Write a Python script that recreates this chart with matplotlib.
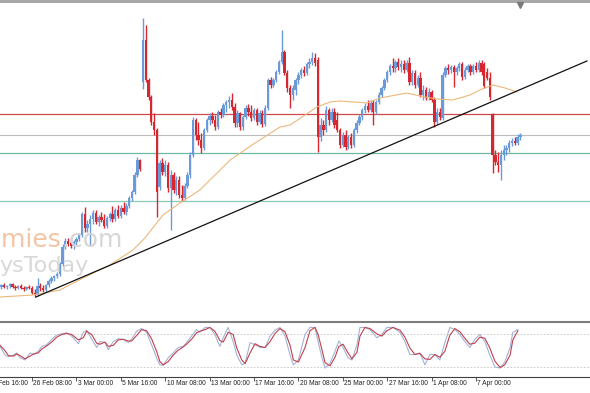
import matplotlib
matplotlib.use("Agg")
import matplotlib.pyplot as plt
import numpy as np

# H4 candles (price units are arbitrary, the price scale is cut off in the screenshot)
opens = [14, 13, 15, 13, 14, 16, 13, 12, 14, 12, 11, 13, 12, 7, 5, 14, 12, 10, 15, 19,
         22, 24, 26, 36, 53, 59, 57, 54, 58, 61, 65, 86, 72, 76, 81, 87, 78, 83, 80, 74,
         82, 86, 81, 90, 84, 92, 88, 94, 102, 108, 125, 140, 218, 260, 220, 203, 178, 170, 113, 137,
         128, 135, 112, 125, 110, 120, 105, 102, 114, 125, 145, 180, 165, 160, 152, 170, 180, 184, 180, 173,
         188, 185, 195, 198, 200, 193, 177, 187, 173, 183, 192, 188, 182, 190, 178, 187, 176, 192, 220, 215,
         220, 228, 238, 248, 227, 212, 205, 210, 220, 225, 230, 227, 236, 238, 242, 240, 163, 175, 170, 190,
         180, 188, 180, 170, 155, 165, 153, 163, 155, 170, 177, 183, 190, 194, 190, 197, 188, 198, 205, 212,
         220, 228, 234, 232, 238, 233, 236, 230, 237, 218, 227, 215, 222, 205, 210, 202, 208, 200, 178, 188,
         182, 225, 232, 230, 233, 228, 232, 236, 223, 230, 234, 228, 234, 230, 237, 236, 228, 222, 186, 145,
         138, 135, 145, 150, 152, 157, 159, 157, 163]
highs = [16, 16, 17, 15, 17, 17, 15, 15, 16, 14, 14, 15, 14, 11, 22, 17, 15, 16, 21, 24,
         25, 28, 38, 56, 62, 62, 61, 60, 63, 67, 88, 93, 80, 85, 90, 90, 85, 88, 86, 84,
         88, 94, 92, 95, 95, 98, 97, 104, 110, 128, 143, 141, 282, 275, 222, 205, 187, 172, 140, 142,
         140, 138, 130, 128, 124, 124, 115, 117, 128, 148, 183, 182, 178, 167, 172, 182, 187, 188, 185, 190,
         192, 197, 200, 204, 207, 197, 190, 188, 185, 195, 196, 195, 192, 192, 190, 190, 195, 222, 223, 222,
         230, 240, 270, 250, 230, 215, 215, 222, 228, 232, 234, 238, 242, 248, 247, 243, 182, 180, 194, 192,
         192, 192, 188, 172, 168, 170, 165, 167, 172, 180, 186, 192, 197, 200, 200, 200, 200, 208, 214, 222,
         230, 236, 242, 240, 242, 240, 240, 240, 243, 230, 230, 225, 228, 215, 213, 212, 210, 203, 192, 192,
         228, 234, 236, 235, 235, 234, 238, 238, 233, 236, 236, 236, 238, 240, 240, 238, 232, 228, 187, 150,
         148, 150, 155, 155, 160, 162, 163, 166, 167]
lows = [11, 11, 12, 11, 12, 12, 10, 11, 11, 9, 10, 11, 6, 3, 4, 9, 8, 8, 13, 17,
        19, 22, 24, 34, 51, 54, 52, 51, 55, 59, 63, 68, 68, 55, 76, 76, 74, 78, 72, 72,
        79, 78, 79, 82, 82, 86, 85, 92, 99, 106, 123, 129, 211, 218, 200, 175, 165, 83, 110, 125,
        124, 108, 70, 107, 105, 102, 99, 100, 112, 122, 143, 160, 155, 147, 150, 168, 175, 177, 170, 171,
        182, 183, 188, 192, 190, 173, 173, 170, 170, 181, 184, 179, 180, 175, 176, 173, 174, 190, 212, 213,
        218, 226, 236, 225, 208, 192, 200, 205, 216, 222, 224, 225, 232, 235, 234, 148, 159, 165, 168, 175,
        178, 172, 168, 152, 153, 150, 151, 152, 153, 167, 175, 180, 187, 188, 188, 175, 186, 196, 203, 210,
        218, 225, 228, 228, 230, 228, 227, 228, 215, 215, 212, 213, 203, 200, 200, 200, 198, 173, 176, 180,
        180, 223, 226, 227, 213, 225, 229, 220, 221, 228, 225, 226, 228, 228, 225, 212, 220, 200, 127, 135,
        128, 120, 140, 145, 148, 154, 155, 155, 160]
closes = [13, 15, 13, 14, 16, 13, 12, 14, 12, 11, 13, 12, 7, 5, 14, 12, 10, 15, 19, 22,
          24, 26, 36, 53, 59, 56, 54, 58, 61, 65, 86, 72, 76, 81, 87, 78, 83, 80, 74, 82,
          86, 81, 90, 84, 92, 88, 94, 102, 108, 125, 140, 131, 260, 220, 203, 178, 170, 108, 137, 128,
          135, 112, 125, 110, 120, 105, 102, 114, 125, 145, 180, 165, 160, 152, 170, 180, 184, 180, 173, 188,
          185, 195, 198, 200, 193, 177, 187, 173, 183, 192, 188, 182, 190, 178, 187, 176, 192, 220, 215, 220,
          228, 238, 248, 227, 212, 205, 212, 220, 225, 230, 227, 236, 238, 242, 237, 163, 175, 170, 190, 180,
          188, 175, 170, 155, 165, 153, 163, 155, 170, 177, 183, 190, 194, 190, 197, 188, 198, 205, 212, 220,
          228, 234, 232, 238, 233, 236, 230, 237, 218, 227, 215, 222, 205, 210, 202, 208, 200, 178, 188, 183,
          225, 232, 230, 233, 228, 232, 236, 223, 230, 234, 228, 234, 230, 237, 228, 214, 222, 203, 145, 138,
          135, 145, 150, 152, 157, 159, 157, 163, 165]

# moving average
ma_idx = [0.5, 12.4, 22.1, 30.4, 40.1, 48.4, 52.7, 59.2, 65.3, 72.5, 83.4, 92.4, 101.4, 105, 110.4,
          114.7, 119.4, 123, 132.7, 137.4, 147.1, 151.8, 157.9, 163.7, 169.8, 173.4, 178.1, 182.5, 186.8]
ma_val = [3, 5, 10, 22, 35, 50, 62, 85, 97, 110, 140, 157, 173, 175, 185,
          193, 198, 199, 197, 202, 207, 204, 201, 200, 205, 210, 215, 212, 208]

# trend line and horizontal levels
trend_idx = [13.4, 212.0]
trend_val = [3, 239]
level_red = 186
level_gray = 165
level_teal = [147, 99]

# stochastic oscillator
stoch_idx = [0.5, 2.3, 3.5, 5.3, 6.5, 7.7, 9.5, 11.3, 12.5, 14.3, 15.5, 17.3, 19.1, 20.9, 22.7,
             24.5, 26.3, 28.7, 30.5, 31.7, 33.5, 35.3, 36.5, 38.3, 39.5, 41.3, 43.1, 44.9, 46.7, 47.9,
             49.7, 51.5, 53.3, 55.1, 56.9, 58.1, 59.3, 61.1, 62.9, 64.7, 66.5, 67.7, 69.5, 71.3, 72.5,
             74.4, 76.1, 77.9, 79.7, 80.9, 82.7, 84.5, 85.8, 87.6, 88.8, 90.6, 92.4, 94.2, 96, 97.8,
             99.6, 101.4, 103.2, 105, 106.2, 108, 110.4, 112.2, 114, 115.1, 116.5, 117.6, 119.4, 121.2, 122.6,
             124.1, 125.9, 127.3, 129.1, 130.2, 132, 133.8, 136.3, 138.1, 139.9, 142.1, 144.6, 146.4, 148.2, 150,
             151.8, 153.6, 155.4, 157.2, 159, 160.8, 162.6, 164.4, 166.2, 168, 169.8, 171.6, 173.4, 175.2, 177,
             178.8, 180.7, 182.4, 184.3, 185.3, 187.1]
stoch_k = [58, 42, 39, 42, 46, 37, 33, 46, 43, 49, 58, 61, 71, 79, 81,
           83, 77, 63, 84, 88, 72, 56, 67, 65, 52, 67, 72, 71, 65, 71,
           86, 91, 84, 61, 37, 24, 23, 37, 46, 56, 58, 65, 77, 89, 84,
           93, 93, 80, 58, 74, 93, 67, 42, 24, 27, 65, 61, 56, 56, 77,
           88, 93, 77, 42, 24, 33, 80, 93, 93, 67, 37, 18, 27, 49, 68,
           56, 37, 33, 61, 93, 93, 89, 74, 80, 93, 93, 84, 67, 43, 43,
           46, 24, 43, 43, 33, 65, 93, 89, 80, 67, 56, 71, 80, 67, 42,
           20, 18, 29, 56, 84, 89]
stoch_d = [60, 50, 41, 40, 44, 41, 35, 40, 44, 46, 53, 59, 66, 75, 80,
           82, 80, 70, 74, 86, 80, 64, 62, 66, 58, 60, 70, 71, 68, 68,
           78, 89, 87, 72, 49, 30, 24, 30, 42, 51, 57, 62, 71, 83, 86,
           89, 93, 86, 69, 66, 84, 80, 55, 33, 26, 46, 63, 58, 56, 67,
           82, 91, 85, 60, 33, 29, 56, 87, 93, 80, 52, 28, 22, 38, 58,
           62, 46, 35, 47, 77, 93, 91, 81, 77, 87, 93, 88, 75, 55, 43,
           45, 35, 34, 43, 38, 49, 79, 91, 85, 73, 62, 64, 75, 73, 55,
           31, 19, 24, 42, 70, 87]

tick_idx = [-4, 12, 28, 44, 60, 76, 92, 108, 124, 140, 156, 172]
tick_labels = ['23 Feb 16:00', '26 Feb 08:00', '3 Mar 00:00', '5 Mar 16:00', '10 Mar 08:00',
               '13 Mar 00:00', '17 Mar 16:00', '20 Mar 08:00', '25 Mar 00:00', '27 Mar 16:00',
               '1 Apr 08:00', '7 Apr 00:00']

BULL = '#6b9ad8'
BEAR = '#d8262e'

fig = plt.figure(figsize=(5.9, 3.93), dpi=100)
fig.patch.set_facecolor('white')

# ---- main price panel ----
ax = fig.add_axes([0, 1 - 321 / 393, 1, 318 / 393])
ax.set_xlim(0.47, 213.1)
ax.set_ylim(-21, 297)
ax.axis('off')

# watermark (only partly visible at the left edge)
fig.text(61 / 590, 1 - 247 / 393, 'Economies', fontsize=18, color='#f5c4a4',
         ha='right', va='baseline', zorder=0)
fig.text(61 / 590, 1 - 247 / 393, '.com', fontsize=18, color='#d6d6d6',
         ha='left', va='baseline', zorder=0)
fig.text(-1 / 590, 1 - 272 / 393, 'ysToday', fontsize=16, color='#d8d8d8',
         ha='left', va='baseline', zorder=0)

idx = np.arange(len(opens))
o = np.array(opens)
c = np.array(closes)
colors = [BULL if cc >= oo else BEAR for oo, cc in zip(o, c)]
ax.vlines(idx, lows, highs, colors=colors, lw=1.0, zorder=3)
body = np.where(np.abs(c - o) < 1, 1, c - o)
ax.bar(idx, body, bottom=o, width=0.85, color=colors, linewidth=0, zorder=4)

ax.axhline(level_red, color='#d04a4a', lw=0.9, zorder=2)
ax.axhline(level_gray, color='#bdbdbd', lw=0.8, zorder=2)
ax.axhline(level_teal[0], color='#6cb9a2', lw=0.9, zorder=2)
ax.axhline(level_teal[1], color='#8ccbb6', lw=0.9, zorder=2)
ax.plot(ma_idx, ma_val, color='#ecb87a', lw=0.8, zorder=5)
ax.plot(trend_idx, trend_val, color='#111111', lw=0.9, zorder=6)

# ---- stochastic panel ----
ax2 = fig.add_axes([0, 1 - 377 / 393, 1, 54 / 393])
ax2.set_xlim(0.47, 213.1)
ax2.set_ylim(1.5, 101.2)
for s in ['top', 'left', 'right']:
    ax2.spines[s].set_visible(False)
ax2.spines['bottom'].set_color('#404040')
ax2.spines['bottom'].set_linewidth(0.8)
ax2.set_yticks([])
ax2.axhline(80, color='#c4c4c4', lw=0.6, ls=(0, (2, 2)))
ax2.axhline(20, color='#c4c4c4', lw=0.6, ls=(0, (2, 2)))
ax2.plot(stoch_idx, stoch_k, color='#a3b3d6', lw=0.8)
ax2.plot(stoch_idx, stoch_d, color='#c2404c', lw=0.8)
ax2.set_xticks([t for t in tick_idx if t > 0])
ax2.set_xticklabels([])
ax2.tick_params(axis='x', direction='out', length=3, width=0.6, color='#404040')
for t, lab in zip(tick_idx, tick_labels):
    ax2.annotate(lab, xy=(t, 0), xycoords=('data', 'axes fraction'),
                 xytext=(1.0, -2.0), textcoords='offset points', ha='left', va='top',
                 fontsize=4.8, color='#202020', annotation_clip=False,
                 family=['Liberation Sans', 'DejaVu Sans'])

# panel separators and top bar
fig.add_artist(plt.Line2D([0, 1], [1 - 322 / 393] * 2, color='#7d7d7d', lw=1.5))
fig.add_artist(plt.Rectangle((0, 1 - 3 / 393), 1, 3 / 393, color='#a8a8a8', lw=0))
fig.add_artist(plt.Line2D([520 / 590], [1 - 4.5 / 393], marker='v', ms=4,
                          color='#7a7a7a', lw=0))

fig.savefig('out.png', dpi=100)
